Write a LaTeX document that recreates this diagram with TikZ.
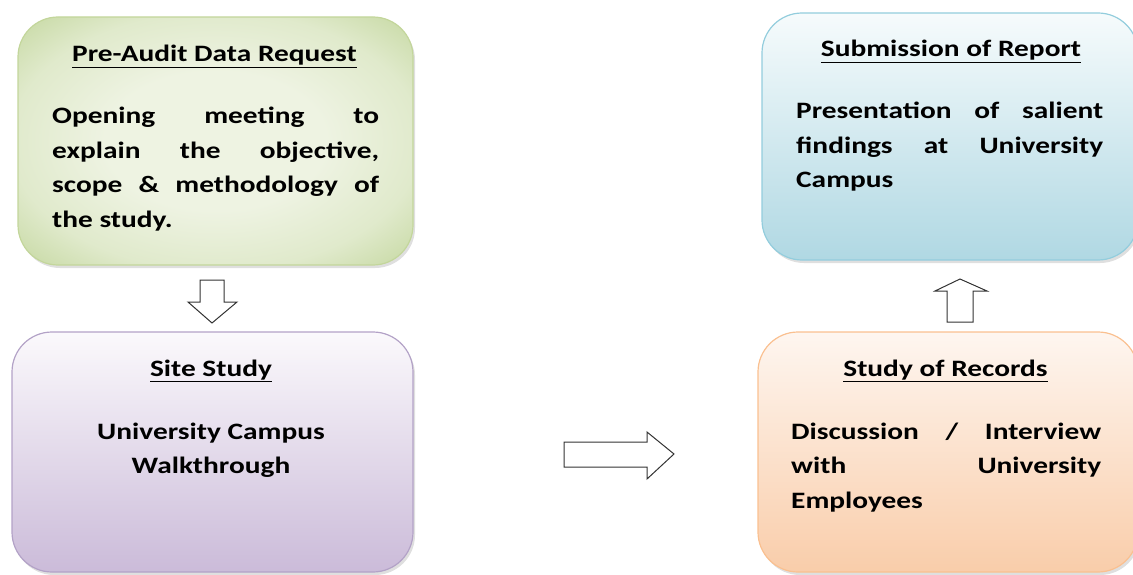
\documentclass[tikz,border=0pt]{standalone}
\usepackage{fontspec}
\setmainfont[FakeStretch=1.25]{Carlito}
\usetikzlibrary{shadows}
\definecolor{gA}{HTML}{BFD497}
\definecolor{gB}{HTML}{EEF3E2}
\definecolor{gBorder}{HTML}{C3D69B}
\definecolor{pTop}{HTML}{FBF9FC}
\definecolor{pBot}{HTML}{CBBBD9}
\definecolor{pBorder}{HTML}{B3A2C7}
\definecolor{bTop}{HTML}{F6FBFC}
\definecolor{bBot}{HTML}{B0D8E3}
\definecolor{bBorder}{HTML}{93CDDD}
\definecolor{oTop}{HTML}{FEF6F0}
\definecolor{oBot}{HTML}{F9CDAA}
\definecolor{oBorder}{HTML}{FAC090}
\pgfdeclareradialshading{greenrad}{\pgfpoint{0bp}{0bp}}{%
  color(0bp)=(gB); color(14bp)=(gB); color(26bp)=(gB!70!gA); color(38bp)=(gA); color(50bp)=(gA)}
\tikzset{
  box/.style={rectangle, rounded corners=40pt, line width=1.2pt, inner sep=0pt,
    drop shadow={shadow xshift=2pt, shadow yshift=-3pt, opacity=0.25}},
  ttl/.style={font=\fontsize{23.5}{28}\selectfont\bfseries, inner sep=0pt, anchor=base},
  body/.style={font=\fontsize{23.5}{34.5}\selectfont\bfseries, inner sep=0pt, anchor=base west},
  blockarrow/.style={draw=black!80, fill=white, line width=1pt, line join=miter}
}
\begin{document}
\begin{tikzpicture}[x=1pt,y=-1pt]
\useasboundingbox (0,0) rectangle (1133,575);
% boxes
\node[box, draw=gBorder, shading=greenrad,
  minimum width=395pt, minimum height=248pt] (pre) at (215.5,141) {};
\node[box, draw=pBorder, top color=pTop, bottom color=pBot,
  minimum width=401pt, minimum height=240pt] (site) at (212.5,452) {};
\node[box, draw=bBorder, top color=bTop, bottom color=bBot,
  minimum width=376pt, minimum height=247pt] (sub) at (950,136.5) {};
\node[box, draw=oBorder, top color=oTop, bottom color=oBot,
  minimum width=380pt, minimum height=240pt] (rec) at (948,452) {};
% texts
\node[ttl] (preT) at (214.5,62) {\underline{Pre-Audit Data Request}};
\node[body] (preB) at (52,124) {\parbox[t]{327pt}{%
  Opening\hfill meeting\hfill to\par
  explain\hfill the\hfill objective,\par
  scope\hfill \&\hfill methodology\hfill of\par
  the study.}};
\node[ttl] (siteT) at (211,376) {\underline{Site Study}};
\node[body, anchor=base] (siteB) at (211,439) {\parbox[t]{330pt}{\centering
  University Campus\par Walkthrough}};
\node[ttl] (subT) at (951,57) {\underline{Submission of Report}};
\node[body] (subB) at (796,119) {\parbox[t]{307pt}{%
  Presentation\hfill of\hfill salient\par
  findings\hfill at\hfill University\par
  Campus}};
\node[ttl] (recT) at (945.5,376) {\underline{Study of Records}};
\node[body] (recB) at (791,439) {\parbox[t]{310pt}{%
  Discussion\hfill /\hfill Interview\par
  with\hfill University\par
  Employees}};
% block arrows
\draw[blockarrow] (200,280) -- (224,280) -- (224,302) -- (237,302) -- (212,323) -- (188,302) -- (200,302) -- cycle;
\draw[blockarrow] (947,322) -- (973,322) -- (973,291) -- (987,291) -- (960,279) -- (935,291) -- (947,291) -- cycle;
\draw[blockarrow] (564,442) -- (647,442) -- (647,432) -- (674,454) -- (647,479) -- (647,467) -- (564,467) -- cycle;
\end{tikzpicture}
\end{document}
